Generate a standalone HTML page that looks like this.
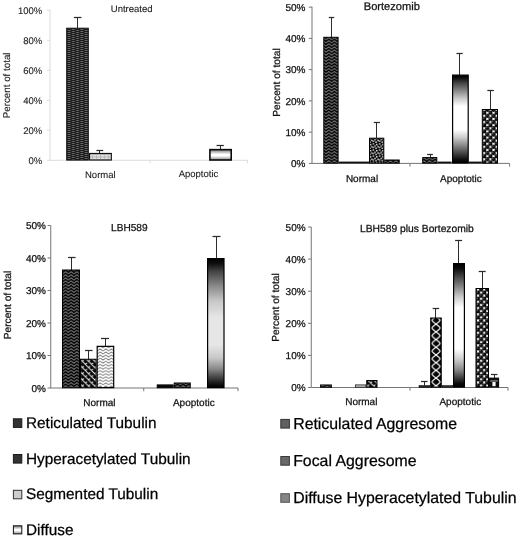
<!DOCTYPE html>
<html><head><meta charset="utf-8"><title>Figure</title>
<style>
html,body{margin:0;padding:0;background:#fff;}
body{width:520px;height:538px;overflow:hidden;font-family:"Liberation Sans",sans-serif;}
svg{display:block;filter:grayscale(1) blur(0.28px);}
svg text{font-family:"Liberation Sans",sans-serif;text-rendering:geometricPrecision;}
</style></head><body>
<svg width="520" height="538" viewBox="0 0 520 538">
<rect width="520" height="538" fill="#fff"/>

<defs>
<pattern id="pDark" width="8.6" height="2" patternUnits="userSpaceOnUse" x="66.9" y="0">
  <rect width="8.6" height="2" fill="#1a1a1a"/>
  <rect x="0.6" y="0" width="3.0" height="1" fill="#686868"/>
  <rect x="4.9" y="1" width="3.0" height="1" fill="#686868"/>
</pattern>
<pattern id="pLight" width="4" height="2.4" patternUnits="userSpaceOnUse" y="0.6">
  <rect width="4" height="2.4" fill="#e4e4e4"/>
  <rect x="0" y="0" width="4" height="0.8" fill="#a4a4a4"/>
  <rect x="0" y="0" width="0.8" height="2.4" fill="#b4b4b4"/>
</pattern>
<pattern id="pZig" width="5.6" height="3.08" patternUnits="userSpaceOnUse" x="1.2" y="0.2">
  <rect width="5.6" height="3.08" fill="#050505"/>
  <path d="M-2.8 0.45 L0 2.65 L2.8 0.45 L5.6 2.65 L8.4 0.45" fill="none" stroke="#f4f4f4" stroke-width="0.66" stroke-linejoin="miter"/>
</pattern>
<pattern id="pDots" width="6.2" height="6.2" patternUnits="userSpaceOnUse" x="0.5" y="0.3">
  <rect width="6.2" height="6.2" fill="#050505"/>
  <g fill="#fff">
  <rect x="0.3" y="0.2" width="1.35" height="1.35"/>
  <rect x="3.6" y="0.9" width="1.35" height="1.35"/>
  <rect x="1.9" y="2.4" width="1.35" height="1.35"/>
  <rect x="4.8" y="3.2" width="1.35" height="1.35"/>
  <rect x="0.2" y="3.9" width="1.35" height="1.35"/>
  <rect x="2.9" y="4.8" width="1.35" height="1.35"/>
  </g>
</pattern>
<pattern id="pSphere" width="6.2" height="6.2" patternUnits="userSpaceOnUse" x="0.6" y="1.2">
  <rect width="6.2" height="6.2" fill="#fff"/>
  <circle cx="0" cy="0" r="2.15" fill="#0a0a0a"/><circle cx="6.2" cy="0" r="2.15" fill="#0a0a0a"/>
  <circle cx="0" cy="6.2" r="2.15" fill="#0a0a0a"/><circle cx="6.2" cy="6.2" r="2.15" fill="#0a0a0a"/>
  <circle cx="3.1" cy="3.1" r="2.15" fill="#0a0a0a"/>
  <path d="M0 0 L6.2 6.2 M6.2 0 L0 6.2" stroke="#0a0a0a" stroke-width="0.9"/>
  <circle cx="2.5" cy="2.4" r="0.55" fill="#8a8a8a"/>
  <circle cx="5.6" cy="5.5" r="0.55" fill="#8a8a8a"/>
  <circle cx="-0.6" cy="5.5" r="0.55" fill="#8a8a8a"/>
  <circle cx="5.6" cy="-0.7" r="0.55" fill="#8a8a8a"/>
</pattern>
<pattern id="pShingle" width="6.2" height="6.2" patternUnits="userSpaceOnUse">
  <rect width="6.2" height="6.2" fill="#060606"/>
  <path d="M-0.5 -0.5 L6.7 6.7 M-0.5 5.7 L0.5 6.7 M5.7 -0.5 L6.7 0.5 M1.6 1.6 L3.4 0.4 M4.7 4.7 L6.5 3.5 M-1.5 4.7 L0.3 3.5" fill="none" stroke="#f4f4f4" stroke-width="0.95"/>
</pattern>
<pattern id="pZigW" width="5.6" height="3.08" patternUnits="userSpaceOnUse" x="2.2" y="0.3">
  <rect width="5.6" height="3.08" fill="#fff"/>
  <path d="M-2.8 0.6 L0 2.5 L2.8 0.6 L5.6 2.5 L8.4 0.6" fill="none" stroke="#1a1a1a" stroke-width="0.7"/>
</pattern>
<pattern id="pWeave" width="11.5" height="7.7" patternUnits="userSpaceOnUse" x="430.3" y="320.3">
  <rect width="11.5" height="7.7" fill="#050505"/>
  <path d="M1.3 -1.5 C0.3 2.6,11.2 5.1,10.2 9.2 M10.2 -1.5 C11.2 2.6,0.3 5.1,1.3 9.2" fill="none" stroke="#f8f8f8" stroke-width="1.2"/>
</pattern>
<linearGradient id="gFocal" x1="0" y1="0" x2="0" y2="1">
  <stop offset="0" stop-color="#000"/>
  <stop offset="0.04" stop-color="#0c0c0c"/>
  <stop offset="0.105" stop-color="#444"/>
  <stop offset="0.19" stop-color="#888"/>
  <stop offset="0.27" stop-color="#ccc"/>
  <stop offset="0.355" stop-color="#fff"/>
  <stop offset="0.69" stop-color="#fff"/>
  <stop offset="0.775" stop-color="#ccc"/>
  <stop offset="0.86" stop-color="#888"/>
  <stop offset="0.92" stop-color="#444"/>
  <stop offset="0.97" stop-color="#0c0c0c"/>
  <stop offset="1" stop-color="#000"/>
</linearGradient>
<linearGradient id="gFocal2" x1="0" y1="0" x2="0" y2="1">
  <stop offset="0" stop-color="#000"/>
  <stop offset="0.03" stop-color="#0c0c0c"/>
  <stop offset="0.09" stop-color="#444"/>
  <stop offset="0.18" stop-color="#888"/>
  <stop offset="0.27" stop-color="#ccc"/>
  <stop offset="0.355" stop-color="#fff"/>
  <stop offset="0.62" stop-color="#fff"/>
  <stop offset="0.71" stop-color="#ccc"/>
  <stop offset="0.80" stop-color="#888"/>
  <stop offset="0.89" stop-color="#444"/>
  <stop offset="0.965" stop-color="#0c0c0c"/>
  <stop offset="1" stop-color="#000"/>
</linearGradient>
<linearGradient id="gFocal3" x1="0" y1="0" x2="0" y2="1">
  <stop offset="0" stop-color="#000"/>
  <stop offset="0.04" stop-color="#101010"/>
  <stop offset="0.10" stop-color="#444"/>
  <stop offset="0.21" stop-color="#888"/>
  <stop offset="0.33" stop-color="#c8c8c8"/>
  <stop offset="0.46" stop-color="#e6e6e6"/>
  <stop offset="0.67" stop-color="#e6e6e6"/>
  <stop offset="0.77" stop-color="#c8c8c8"/>
  <stop offset="0.855" stop-color="#888"/>
  <stop offset="0.92" stop-color="#444"/>
  <stop offset="0.975" stop-color="#101010"/>
  <stop offset="1" stop-color="#000"/>
</linearGradient>
<linearGradient id="gDiffuse" x1="0" y1="0" x2="0" y2="1">
  <stop offset="0" stop-color="#777"/>
  <stop offset="0.45" stop-color="#fff"/>
  <stop offset="0.6" stop-color="#fff"/>
  <stop offset="1" stop-color="#888"/>
</linearGradient>
</defs>

<line x1="50.00" y1="9.80" x2="50.00" y2="160.30" stroke="#dcdcdc" stroke-width="1"/>
<line x1="50.00" y1="160.30" x2="247.50" y2="160.30" stroke="#dcdcdc" stroke-width="1"/>
<line x1="47.00" y1="160.30" x2="50.00" y2="160.30" stroke="#dcdcdc" stroke-width="1"/>
<text x="42.20" y="163.60" font-size="9.5" text-anchor="end" fill="#1a1a1a" stroke="#1a1a1a" stroke-width="0.1">0%</text>
<line x1="47.00" y1="130.30" x2="50.00" y2="130.30" stroke="#dcdcdc" stroke-width="1"/>
<text x="42.20" y="133.60" font-size="9.5" text-anchor="end" fill="#1a1a1a" stroke="#1a1a1a" stroke-width="0.1">20%</text>
<line x1="47.00" y1="100.30" x2="50.00" y2="100.30" stroke="#dcdcdc" stroke-width="1"/>
<text x="42.20" y="103.60" font-size="9.5" text-anchor="end" fill="#1a1a1a" stroke="#1a1a1a" stroke-width="0.1">40%</text>
<line x1="47.00" y1="70.30" x2="50.00" y2="70.30" stroke="#dcdcdc" stroke-width="1"/>
<text x="42.20" y="73.60" font-size="9.5" text-anchor="end" fill="#1a1a1a" stroke="#1a1a1a" stroke-width="0.1">60%</text>
<line x1="47.00" y1="40.30" x2="50.00" y2="40.30" stroke="#dcdcdc" stroke-width="1"/>
<text x="42.20" y="43.60" font-size="9.5" text-anchor="end" fill="#1a1a1a" stroke="#1a1a1a" stroke-width="0.1">80%</text>
<line x1="47.00" y1="10.30" x2="50.00" y2="10.30" stroke="#dcdcdc" stroke-width="1"/>
<text x="42.20" y="13.60" font-size="9.5" text-anchor="end" fill="#1a1a1a" stroke="#1a1a1a" stroke-width="0.1">100%</text>
<line x1="150.00" y1="160.30" x2="150.00" y2="163.30" stroke="#dcdcdc" stroke-width="1"/>
<line x1="247.50" y1="160.30" x2="247.50" y2="163.30" stroke="#dcdcdc" stroke-width="1"/>
<text x="131.70" y="11.70" font-size="9.5" text-anchor="middle" fill="#1a1a1a" stroke="#1a1a1a" stroke-width="0.1">Untreated</text>
<text x="10.40" y="85.40" font-size="9.8" text-anchor="middle" fill="#1a1a1a" stroke="#1a1a1a" stroke-width="0.1" transform="rotate(-90 10.40 85.40)">Percent of total</text>
<text x="100.30" y="177.70" font-size="9.5" text-anchor="middle" fill="#1a1a1a" stroke="#1a1a1a" stroke-width="0.1">Normal</text>
<text x="198.50" y="177.20" font-size="9.5" text-anchor="middle" fill="#1a1a1a" stroke="#1a1a1a" stroke-width="0.1">Apoptotic</text>
<line x1="77.50" y1="17.50" x2="77.50" y2="28.00" stroke="#2c2c2c" stroke-width="1.0"/>
<line x1="73.95" y1="17.50" x2="81.45" y2="17.50" stroke="#2c2c2c" stroke-width="1.25"/>
<rect x="66.70" y="28.20" width="21.60" height="131.90" fill="url(#pDark)" stroke="#111" stroke-width="1"/>
<line x1="99.50" y1="150.50" x2="99.50" y2="153.00" stroke="#2c2c2c" stroke-width="1.0"/>
<line x1="96.40" y1="150.50" x2="103.20" y2="150.50" stroke="#2c2c2c" stroke-width="1.25"/>
<rect x="89.55" y="153.45" width="21.80" height="6.60" fill="url(#pLight)" stroke="#111" stroke-width="1.1"/>
<line x1="220.50" y1="145.50" x2="220.50" y2="149.00" stroke="#2c2c2c" stroke-width="1.0"/>
<line x1="216.55" y1="145.50" x2="223.85" y2="145.50" stroke="#2c2c2c" stroke-width="1.25"/>
<rect x="209.90" y="149.65" width="21.30" height="10.35" fill="url(#gDiffuse)" stroke="#0a0a0a" stroke-width="1.6"/>
<line x1="312.00" y1="6.70" x2="312.00" y2="163.40" stroke="#757575" stroke-width="1"/>
<line x1="312.00" y1="163.40" x2="509.60" y2="163.40" stroke="#757575" stroke-width="1"/>
<line x1="308.80" y1="163.40" x2="312.00" y2="163.40" stroke="#757575" stroke-width="1"/>
<text x="305.40" y="167.00" font-size="10" text-anchor="end" fill="#111" stroke="#111" stroke-width="0.25">0%</text>
<line x1="308.80" y1="132.15" x2="312.00" y2="132.15" stroke="#757575" stroke-width="1"/>
<text x="305.40" y="135.75" font-size="10" text-anchor="end" fill="#111" stroke="#111" stroke-width="0.25">10%</text>
<line x1="308.80" y1="100.90" x2="312.00" y2="100.90" stroke="#757575" stroke-width="1"/>
<text x="305.40" y="104.50" font-size="10" text-anchor="end" fill="#111" stroke="#111" stroke-width="0.25">20%</text>
<line x1="308.80" y1="69.65" x2="312.00" y2="69.65" stroke="#757575" stroke-width="1"/>
<text x="305.40" y="73.25" font-size="10" text-anchor="end" fill="#111" stroke="#111" stroke-width="0.25">30%</text>
<line x1="308.80" y1="38.40" x2="312.00" y2="38.40" stroke="#757575" stroke-width="1"/>
<text x="305.40" y="42.00" font-size="10" text-anchor="end" fill="#111" stroke="#111" stroke-width="0.25">40%</text>
<line x1="308.80" y1="7.15" x2="312.00" y2="7.15" stroke="#757575" stroke-width="1"/>
<text x="305.40" y="10.75" font-size="10" text-anchor="end" fill="#111" stroke="#111" stroke-width="0.25">50%</text>
<line x1="410.00" y1="163.40" x2="410.00" y2="166.60" stroke="#757575" stroke-width="1"/>
<line x1="509.60" y1="163.40" x2="509.60" y2="166.60" stroke="#757575" stroke-width="1"/>
<text x="391.80" y="10.00" font-size="11.1" text-anchor="middle" fill="#111" stroke="#111" stroke-width="0.25">Bortezomib</text>
<text x="280.00" y="82.50" font-size="10.2" text-anchor="middle" fill="#111" stroke="#111" stroke-width="0.25" transform="rotate(-90 280.00 82.50)">Percent of total</text>
<text x="362.00" y="182.00" font-size="10" text-anchor="middle" fill="#111" stroke="#111" stroke-width="0.25">Normal</text>
<text x="460.90" y="182.00" font-size="10" text-anchor="middle" fill="#111" stroke="#111" stroke-width="0.25">Apoptotic</text>
<line x1="331.50" y1="17.50" x2="331.50" y2="37.50" stroke="#2c2c2c" stroke-width="1.0"/>
<line x1="328.75" y1="17.50" x2="334.25" y2="17.50" stroke="#2c2c2c" stroke-width="1.25"/>
<rect x="323.80" y="37.30" width="14.30" height="125.80" fill="url(#pZig)" stroke="#000" stroke-width="1"/>
<rect x="338.60" y="161.60" width="30.60" height="1.80" fill="#111"/>
<line x1="376.50" y1="122.50" x2="376.50" y2="138.00" stroke="#2c2c2c" stroke-width="1.0"/>
<line x1="373.80" y1="122.50" x2="380.00" y2="122.50" stroke="#2c2c2c" stroke-width="1.25"/>
<rect x="369.50" y="138.20" width="14.30" height="24.90" fill="url(#pDots)" stroke="#000" stroke-width="1"/>
<rect x="384.80" y="160.00" width="14.40" height="3.10" fill="url(#pZig)" stroke="#000" stroke-width="1"/>
<line x1="430.50" y1="154.50" x2="430.50" y2="157.50" stroke="#2c2c2c" stroke-width="1.0"/>
<line x1="427.10" y1="154.50" x2="432.90" y2="154.50" stroke="#2c2c2c" stroke-width="1.25"/>
<rect x="422.70" y="157.60" width="14.10" height="5.50" fill="url(#pZig)" stroke="#000" stroke-width="1"/>
<rect x="437.30" y="161.60" width="14.30" height="1.80" fill="#111"/>
<line x1="459.50" y1="53.50" x2="459.50" y2="75.00" stroke="#2c2c2c" stroke-width="1.0"/>
<line x1="456.45" y1="53.50" x2="462.75" y2="53.50" stroke="#2c2c2c" stroke-width="1.25"/>
<rect x="452.60" y="75.10" width="15.60" height="87.90" fill="url(#gFocal2)" stroke="#000" stroke-width="1.2"/>
<rect x="468.70" y="161.60" width="13.10" height="1.80" fill="#111"/>
<line x1="490.50" y1="90.50" x2="490.50" y2="109.50" stroke="#2c2c2c" stroke-width="1.0"/>
<line x1="487.35" y1="90.50" x2="493.85" y2="90.50" stroke="#2c2c2c" stroke-width="1.25"/>
<rect x="482.30" y="109.50" width="15.20" height="53.60" fill="url(#pSphere)" stroke="#000" stroke-width="1"/>
<line x1="50.75" y1="225.50" x2="50.75" y2="388.00" stroke="#757575" stroke-width="1"/>
<line x1="50.75" y1="388.00" x2="238.00" y2="388.00" stroke="#757575" stroke-width="1"/>
<line x1="47.55" y1="388.00" x2="50.75" y2="388.00" stroke="#757575" stroke-width="1"/>
<text x="45.90" y="391.60" font-size="10" text-anchor="end" fill="#111" stroke="#111" stroke-width="0.25">0%</text>
<line x1="47.55" y1="355.50" x2="50.75" y2="355.50" stroke="#757575" stroke-width="1"/>
<text x="45.90" y="359.10" font-size="10" text-anchor="end" fill="#111" stroke="#111" stroke-width="0.25">10%</text>
<line x1="47.55" y1="323.00" x2="50.75" y2="323.00" stroke="#757575" stroke-width="1"/>
<text x="45.90" y="326.60" font-size="10" text-anchor="end" fill="#111" stroke="#111" stroke-width="0.25">20%</text>
<line x1="47.55" y1="290.50" x2="50.75" y2="290.50" stroke="#757575" stroke-width="1"/>
<text x="45.90" y="294.10" font-size="10" text-anchor="end" fill="#111" stroke="#111" stroke-width="0.25">30%</text>
<line x1="47.55" y1="258.00" x2="50.75" y2="258.00" stroke="#757575" stroke-width="1"/>
<text x="45.90" y="261.60" font-size="10" text-anchor="end" fill="#111" stroke="#111" stroke-width="0.25">40%</text>
<line x1="47.55" y1="225.50" x2="50.75" y2="225.50" stroke="#757575" stroke-width="1"/>
<text x="45.90" y="229.10" font-size="10" text-anchor="end" fill="#111" stroke="#111" stroke-width="0.25">50%</text>
<line x1="143.75" y1="388.00" x2="143.75" y2="391.20" stroke="#757575" stroke-width="1"/>
<line x1="238.00" y1="388.00" x2="238.00" y2="391.20" stroke="#757575" stroke-width="1"/>
<text x="129.30" y="231.20" font-size="10.1" text-anchor="middle" fill="#111" stroke="#111" stroke-width="0.25">LBH589</text>
<text x="11.30" y="305.00" font-size="10.2" text-anchor="middle" fill="#111" stroke="#111" stroke-width="0.25" transform="rotate(-90 11.30 305.00)">Percent of total</text>
<text x="99.40" y="406.00" font-size="10" text-anchor="middle" fill="#111" stroke="#111" stroke-width="0.25">Normal</text>
<text x="193.80" y="406.00" font-size="10" text-anchor="middle" fill="#111" stroke="#111" stroke-width="0.25">Apoptotic</text>
<line x1="71.50" y1="257.50" x2="71.50" y2="270.00" stroke="#2c2c2c" stroke-width="1.0"/>
<line x1="68.05" y1="257.50" x2="75.55" y2="257.50" stroke="#2c2c2c" stroke-width="1.25"/>
<rect x="62.50" y="270.00" width="17.00" height="117.70" fill="url(#pZig)" stroke="#000" stroke-width="1"/>
<line x1="88.50" y1="350.50" x2="88.50" y2="359.00" stroke="#2c2c2c" stroke-width="1.0"/>
<line x1="85.05" y1="350.50" x2="92.55" y2="350.50" stroke="#2c2c2c" stroke-width="1.25"/>
<rect x="80.50" y="359.25" width="15.60" height="28.45" fill="url(#pShingle)" stroke="#000" stroke-width="1"/>
<line x1="105.50" y1="338.50" x2="105.50" y2="346.00" stroke="#2c2c2c" stroke-width="1.0"/>
<line x1="101.00" y1="338.50" x2="109.00" y2="338.50" stroke="#2c2c2c" stroke-width="1.25"/>
<rect x="97.20" y="346.35" width="16.50" height="41.25" fill="url(#pZigW)" stroke="#000" stroke-width="1.2"/>
<rect x="157.00" y="384.75" width="16.50" height="3.20" fill="#0a0a0a" stroke="#000" stroke-width="0.5"/>
<rect x="174.25" y="383.00" width="16.00" height="4.70" fill="url(#pZig)" stroke="#000" stroke-width="1"/>
<line x1="216.50" y1="236.50" x2="216.50" y2="258.50" stroke="#2c2c2c" stroke-width="1.0"/>
<line x1="212.50" y1="236.50" x2="220.50" y2="236.50" stroke="#2c2c2c" stroke-width="1.25"/>
<rect x="207.60" y="258.60" width="16.40" height="129.00" fill="url(#gFocal3)" stroke="#000" stroke-width="1.2"/>
<line x1="311.25" y1="227.00" x2="311.25" y2="387.50" stroke="#757575" stroke-width="1"/>
<line x1="311.25" y1="387.50" x2="508.00" y2="387.50" stroke="#757575" stroke-width="1"/>
<line x1="308.05" y1="387.50" x2="311.25" y2="387.50" stroke="#757575" stroke-width="1"/>
<text x="305.60" y="391.10" font-size="10" text-anchor="end" fill="#111" stroke="#111" stroke-width="0.25">0%</text>
<line x1="308.05" y1="355.40" x2="311.25" y2="355.40" stroke="#757575" stroke-width="1"/>
<text x="305.60" y="359.00" font-size="10" text-anchor="end" fill="#111" stroke="#111" stroke-width="0.25">10%</text>
<line x1="308.05" y1="323.30" x2="311.25" y2="323.30" stroke="#757575" stroke-width="1"/>
<text x="305.60" y="326.90" font-size="10" text-anchor="end" fill="#111" stroke="#111" stroke-width="0.25">20%</text>
<line x1="308.05" y1="291.20" x2="311.25" y2="291.20" stroke="#757575" stroke-width="1"/>
<text x="305.60" y="294.80" font-size="10" text-anchor="end" fill="#111" stroke="#111" stroke-width="0.25">30%</text>
<line x1="308.05" y1="259.10" x2="311.25" y2="259.10" stroke="#757575" stroke-width="1"/>
<text x="305.60" y="262.70" font-size="10" text-anchor="end" fill="#111" stroke="#111" stroke-width="0.25">40%</text>
<line x1="308.05" y1="227.00" x2="311.25" y2="227.00" stroke="#757575" stroke-width="1"/>
<text x="305.60" y="230.60" font-size="10" text-anchor="end" fill="#111" stroke="#111" stroke-width="0.25">50%</text>
<line x1="410.00" y1="387.50" x2="410.00" y2="390.70" stroke="#757575" stroke-width="1"/>
<line x1="508.00" y1="387.50" x2="508.00" y2="390.70" stroke="#757575" stroke-width="1"/>
<text x="416.90" y="232.40" font-size="10.3" text-anchor="middle" fill="#111" stroke="#111" stroke-width="0.25">LBH589 plus Bortezomib</text>
<text x="278.80" y="307.50" font-size="10.2" text-anchor="middle" fill="#111" stroke="#111" stroke-width="0.25" transform="rotate(-90 278.80 307.50)">Percent of total</text>
<text x="361.30" y="405.00" font-size="10" text-anchor="middle" fill="#111" stroke="#111" stroke-width="0.25">Normal</text>
<text x="460.30" y="405.00" font-size="10" text-anchor="middle" fill="#111" stroke="#111" stroke-width="0.25">Apoptotic</text>
<rect x="320.40" y="384.90" width="11.20" height="2.40" fill="url(#pDark)" stroke="#000" stroke-width="0.8"/>
<rect x="355.40" y="384.90" width="10.45" height="2.40" fill="#bbb" stroke="#222" stroke-width="0.8"/>
<rect x="366.75" y="380.50" width="10.25" height="6.70" fill="url(#pShingle)" stroke="#000" stroke-width="1"/>
<line x1="424.50" y1="381.50" x2="424.50" y2="385.50" stroke="#2c2c2c" stroke-width="1.0"/>
<line x1="421.05" y1="381.50" x2="427.55" y2="381.50" stroke="#2c2c2c" stroke-width="1.25"/>
<rect x="419.00" y="385.55" width="10.95" height="1.90" fill="#222" stroke="#000" stroke-width="0.5"/>
<line x1="435.50" y1="308.50" x2="435.50" y2="318.00" stroke="#2c2c2c" stroke-width="1.0"/>
<line x1="432.65" y1="308.50" x2="439.15" y2="308.50" stroke="#2c2c2c" stroke-width="1.25"/>
<rect x="430.70" y="318.00" width="10.55" height="69.20" fill="url(#pWeave)" stroke="#000" stroke-width="1"/>
<rect x="442.00" y="385.55" width="10.75" height="1.90" fill="#333" stroke="#000" stroke-width="0.5"/>
<line x1="458.50" y1="240.50" x2="458.50" y2="263.50" stroke="#2c2c2c" stroke-width="1.0"/>
<line x1="455.10" y1="240.50" x2="462.10" y2="240.50" stroke="#2c2c2c" stroke-width="1.25"/>
<rect x="453.60" y="263.60" width="10.80" height="123.50" fill="url(#gFocal)" stroke="#000" stroke-width="1.2"/>
<line x1="482.50" y1="271.50" x2="482.50" y2="288.50" stroke="#2c2c2c" stroke-width="1.0"/>
<line x1="478.70" y1="271.50" x2="485.70" y2="271.50" stroke="#2c2c2c" stroke-width="1.25"/>
<rect x="476.00" y="288.50" width="12.50" height="98.70" fill="url(#pSphere)" stroke="#000" stroke-width="1"/>
<line x1="494.50" y1="374.50" x2="494.50" y2="378.00" stroke="#2c2c2c" stroke-width="1.0"/>
<line x1="490.95" y1="374.50" x2="497.45" y2="374.50" stroke="#2c2c2c" stroke-width="1.25"/>
<rect x="488.80" y="377.60" width="10.30" height="10.00" fill="#0c0c0c"/>
<rect x="490.20" y="380.30" width="7.60" height="1.30" fill="#8c8c8c"/>
<rect x="492.40" y="382.00" width="3.20" height="4.20" fill="#f6f6f6"/>
<rect x="13.40" y="418.80" width="8.40" height="8.60" fill="#333" stroke="#1a1a1a" stroke-width="1.0"/>
<text x="26.00" y="428.20" font-size="15.35" text-anchor="start" fill="#000" stroke="#000" stroke-width="0.25">Reticulated Tubulin</text>
<rect x="13.40" y="454.50" width="8.40" height="8.60" fill="#333" stroke="#1a1a1a" stroke-width="1.0"/>
<text x="26.00" y="463.80" font-size="15.35" text-anchor="start" fill="#000" stroke="#000" stroke-width="0.25">Hyperacetylated Tubulin</text>
<rect x="13.40" y="490.30" width="8.40" height="8.50" fill="#cdcdcd" stroke="#333" stroke-width="1.0"/>
<text x="26.00" y="499.40" font-size="15.35" text-anchor="start" fill="#000" stroke="#000" stroke-width="0.25">Segmented Tubulin</text>
<rect x="13.40" y="525.80" width="8.40" height="8.10" fill="url(#gDiffuse)" stroke="#111" stroke-width="1.0"/>
<text x="26.00" y="534.70" font-size="15.35" text-anchor="start" fill="#000" stroke="#000" stroke-width="0.25">Diffuse</text>
<rect x="280.80" y="419.40" width="8.60" height="8.70" fill="#606060" stroke="#333" stroke-width="1.0"/>
<text x="293.20" y="428.60" font-size="15.85" text-anchor="start" fill="#000" stroke="#000" stroke-width="0.25">Reticulated Aggresome</text>
<rect x="280.80" y="456.50" width="8.60" height="8.70" fill="#686868" stroke="#3a3a3a" stroke-width="1.0"/>
<text x="293.20" y="465.70" font-size="15.85" text-anchor="start" fill="#000" stroke="#000" stroke-width="0.25">Focal Aggresome</text>
<rect x="280.80" y="493.70" width="8.60" height="8.60" fill="#858585" stroke="#555" stroke-width="1.0"/>
<text x="293.20" y="502.80" font-size="15.85" text-anchor="start" fill="#000" stroke="#000" stroke-width="0.25">Diffuse Hyperacetylated Tubulin</text>
</svg>
</body></html>
